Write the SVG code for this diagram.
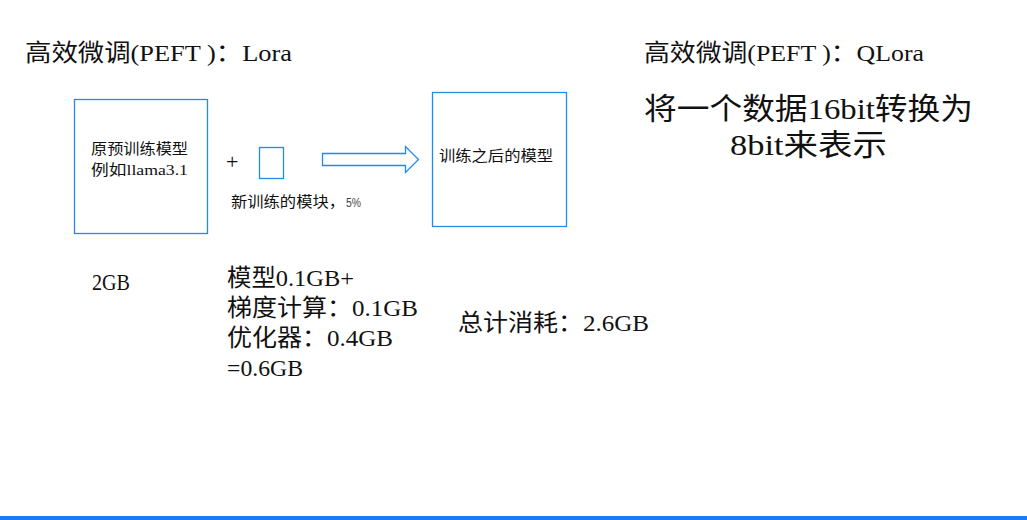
<svg xmlns="http://www.w3.org/2000/svg" width="1027" height="520" viewBox="0 0 1027 520">
<style>
.t{font-family:"Liberation Serif","Noto Sans CJK SC",serif;fill:#111;}
.big{font-size:24px;}
.huge{font-size:30px;}
.mid{font-size:15px;}
.box{fill:#fff;stroke:#1f8ceb;stroke-width:1.3;}
.pct{font-family:"Liberation Sans",sans-serif;font-size:12px;fill:#444;}
</style>
<rect width="1027" height="520" fill="#fff"/>
<g id="title-lora"><text class="t big" x="25" y="61" textLength="267" lengthAdjust="spacingAndGlyphs">高效微调(PEFT )：Lora</text></g>
<g id="title-qlora"><text class="t big" x="644" y="61" textLength="280" lengthAdjust="spacingAndGlyphs">高效微调(PEFT )：QLora</text></g>
<g id="qlora-desc">
<text class="t huge" x="644" y="119" textLength="329" lengthAdjust="spacingAndGlyphs">将一个数据16bit转换为</text>
<text class="t huge" x="730" y="155" textLength="157" lengthAdjust="spacingAndGlyphs">8bit来表示</text>
</g>
<g id="pretrained-model">
<rect class="box" x="74.5" y="99.5" width="133" height="134"/>
<text class="t mid" x="91" y="154" textLength="97" lengthAdjust="spacingAndGlyphs">原预训练模型</text>
<text class="t mid" x="91" y="175" textLength="97" lengthAdjust="spacingAndGlyphs">例如llama3.1</text>
</g>
<g id="plus"><text class="t" x="226" y="169" font-size="22" fill="#311">+</text></g>
<g id="new-module">
<rect class="box" x="259.5" y="147.5" width="24" height="31"/>
<text class="t mid" x="231" y="207" textLength="114" lengthAdjust="spacingAndGlyphs">新训练的模块，</text>
<text class="pct" x="346" y="207" textLength="15" lengthAdjust="spacingAndGlyphs">5%</text>
</g>
<g id="connectors">
<polygon points="322.5,153.5 405.5,153.5 405.5,146.5 418.5,159.5 405.5,172.5 405.5,165.5 322.5,165.5" fill="#fff" stroke="#1f8ceb" stroke-width="1.3" stroke-linejoin="miter"/>
</g>
<g id="trained-model">
<rect class="box" x="432.5" y="92.5" width="134" height="134"/>
<text class="t mid" x="439" y="161" textLength="114" lengthAdjust="spacingAndGlyphs">训练之后的模型</text>
</g>
<g id="mem-base"><text class="t big" x="92" y="290" textLength="38" lengthAdjust="spacingAndGlyphs">2GB</text></g>
<g id="mem-lora">
<text class="t big" x="227" y="286" textLength="127" lengthAdjust="spacingAndGlyphs">模型0.1GB+</text>
<text class="t big" x="227" y="316" textLength="191" lengthAdjust="spacingAndGlyphs">梯度计算：0.1GB</text>
<text class="t big" x="227" y="346" textLength="166" lengthAdjust="spacingAndGlyphs">优化器：0.4GB</text>
<text class="t big" x="227" y="376" textLength="76" lengthAdjust="spacingAndGlyphs">=0.6GB</text>
</g>
<g id="mem-total"><text class="t big" x="458" y="331" textLength="191" lengthAdjust="spacingAndGlyphs">总计消耗：2.6GB</text></g>
<rect x="0" y="516" width="1027" height="4" fill="#1a7af8"/>
</svg>
